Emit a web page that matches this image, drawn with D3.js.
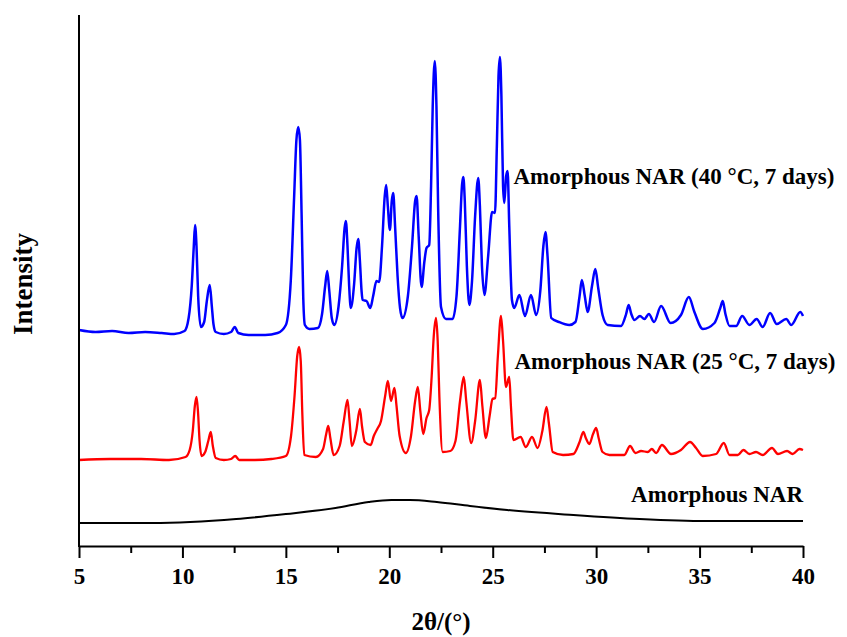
<!DOCTYPE html>
<html>
<head>
<meta charset="utf-8">
<script src="https://cdn.jsdelivr.net/npm/d3@7"></script>
<style>
  body { margin: 0; background: #fff; }
  svg text { font-family: "Liberation Serif", "Times New Roman", serif; font-weight: bold; }
</style>
</head>
<body>
<svg id="chart" width="847" height="637"></svg>
<script>
// 2θ (deg), intensity (a.u., traces already stacked)
const amorphous = [
  [5.0,23],[8.5,23],[12.6,27],[15.0,32],[17.4,38],[19.0,44],[20.1,46],[21.0,46],[22.3,44],
  [23.9,40],[25.7,36],[28.9,31],[32.1,27],[35.3,25],[40.0,25]
];

const nar25 = [
  [5.0,86],[6.5,87],[8.0,87],[9.35,86],[10.15,89],[10.35,96],[10.5,115],[10.6,140],[10.68,149],[10.75,135],[10.83,105],[10.92,90],
  [11.1,94],[11.25,105],[11.37,114],[11.47,100],[11.61,88],[12.0,86],[12.35,87],[12.55,90],[12.75,86],[13.5,86],[14.3,87],
  [15.0,90],[15.25,110],[15.42,150],[15.55,190],[15.64,199],[15.72,185],[15.8,130],[15.89,91],[16.45,89],
  [16.8,97],[16.95,112],[17.05,120],[17.15,108],[17.31,91],[17.6,100],[17.8,125],[17.98,146],[18.08,125],[18.19,100],
  [18.4,115],[18.58,137],[18.68,120],[18.82,104],[19.1,101],[19.25,110],[19.42,117],[19.6,125],[19.8,150],[19.93,165],
  [20.08,145],[20.25,158],[20.35,140],[20.5,110],[20.8,93],[21.05,110],[21.25,145],[21.38,159],[21.5,135],[21.64,112],
  [21.8,128],[21.93,136],[22.05,170],[22.15,210],[22.26,228],[22.34,205],[22.42,150],[22.58,94],[22.95,95],
  [23.2,105],[23.42,145],[23.6,169],[23.72,145],[23.96,103],[24.15,125],[24.38,166],[24.5,140],[24.67,108],
  [24.85,130],[24.99,147],[25.12,148],[25.25,190],[25.4,230],[25.5,205],[25.64,159],[25.8,169],[25.88,140],[26.0,106],
  [26.35,109],[26.6,99],[26.9,109],[27.17,98],[27.4,115],[27.6,139],[27.72,122],[27.9,94],[28.4,91],[28.9,92],
  [29.2,104],[29.38,114],[29.5,108],[29.67,102],[29.85,112],[30.0,118],[30.12,108],[30.31,94],[30.64,91],[31.36,91],
  [31.64,100],[31.9,93],[32.17,95],[32.5,94],[32.69,97],[32.9,93],[33.18,101],[33.62,92],[34.1,96],[34.54,104],
  [34.83,98],[35.15,90],[35.8,92],[36.17,103],[36.45,91],[36.85,91],[37.12,96],[37.41,92],[37.73,94],[38.05,91],
  [38.5,98],[38.79,92],[39.23,95],[39.5,92],[39.83,97],[40.0,96]
];

const nar40 = [
  [5.0,216],[5.8,214],[6.6,215],[7.4,213],[8.2,214],[9.0,213],[9.6,212],[10.1,215],[10.3,228],[10.45,260],[10.55,300],
  [10.61,321],[10.68,300],[10.76,250],[10.89,219],[11.05,224],[11.18,245],[11.32,261],[11.42,240],[11.5,222],[11.61,214],
  [12.0,212],[12.35,214],[12.53,219],[12.7,213],[13.2,211],[14.0,211],[14.6,213],[15.0,221],[15.24,266],[15.4,349],
  [15.51,406],[15.6,419],[15.68,406],[15.76,333],[15.84,249],[15.92,221],[16.14,217],[16.55,218],[16.75,232],[16.9,260],
  [17.0,275],[17.1,255],[17.22,228],[17.34,221],[17.55,240],[17.72,280],[17.84,318],[17.9,325],[17.98,300],[18.06,260],
  [18.14,238],[18.3,262],[18.42,298],[18.5,307],[18.58,285],[18.66,255],[18.71,246],[18.9,245],[19.08,238],[19.22,250],
  [19.38,265],[19.51,264],[19.65,300],[19.78,350],[19.85,361],[19.93,340],[20.03,316],[20.12,345],[20.19,353],[20.28,320],
  [20.4,270],[20.52,238],[20.64,228],[20.9,250],[21.1,300],[21.25,345],[21.32,350],[21.42,310],[21.56,259],[21.7,285],
  [21.8,298],[21.93,301],[22.02,360],[22.1,440],[22.2,485],[22.28,440],[22.36,340],[22.5,239],[22.74,227],[23.06,227],
  [23.25,250],[23.42,320],[23.52,362],[23.58,369],[23.65,345],[23.75,280],[23.87,241],[24.0,265],[24.15,330],[24.3,368],
  [24.38,340],[24.48,280],[24.6,251],[24.78,290],[24.97,334],[25.11,333],[25.2,400],[25.28,470],[25.35,489],[25.42,450],
  [25.5,360],[25.56,343],[25.65,370],[25.72,375],[25.8,320],[25.93,246],[26.04,238],[26.29,251],[26.56,230],[26.85,251],
  [27.1,231],[27.3,255],[27.45,300],[27.55,314],[27.65,290],[27.83,228],[28.2,224],[28.7,221],[29.0,224],[29.2,250],
  [29.31,266],[29.45,250],[29.59,234],[29.8,260],[29.96,277],[30.1,258],[30.31,231],[30.56,221],[31.2,220],[31.45,232],
  [31.57,241],[31.7,232],[31.85,226],[32.12,230],[32.33,227],[32.55,232],[32.8,224],[33.14,240],[33.6,223],[34.1,231],
  [34.48,249],[34.75,234],[35.16,217],[35.72,223],[36.0,238],[36.12,245],[36.25,232],[36.45,220],[36.77,220],[37.06,230],
  [37.41,221],[37.76,227],[38.05,219],[38.41,233],[38.73,222],[39.19,227],[39.43,221],[39.87,234],[40.0,230]
];

const majorTicks = [5, 10, 15, 20, 25, 30, 35, 40];
const minorTicks = [7.5, 12.5, 17.5, 22.5, 27.5, 32.5, 37.5];

// label: text, anchor 2θ, anchor intensity
const labels = [
  { text: "Amorphous NAR (40 \u00B0C, 7 days)", x: 26.0, y: 362, anchor: "start" },
  { text: "Amorphous NAR (25 \u00B0C, 7 days)", x: 26.05, y: 177, anchor: "start" },
  { text: "Amorphous NAR", x: 40.0, y: 44, anchor: "end" }
];

const svg = d3.select("#chart");
const margin = { top: 15, right: 44, bottom: 91, left: 79 };
const width = +svg.attr("width") - margin.left - margin.right;
const height = +svg.attr("height") - margin.top - margin.bottom;
const g = svg.append("g").attr("transform", `translate(${margin.left},${margin.top})`);

const x = d3.scaleLinear().domain([5, 40]).range([0, width]);
const y = d3.scaleLinear().domain([0, 531]).range([height, 0]);

const line = d3.line()
  .x(d => x(d[0]))
  .y(d => y(d[1]))
  .curve(d3.curveMonotoneX);

const series = [
  { data: amorphous, color: "#000000", w: 2 },
  { data: nar25, color: "#ff0000", w: 2.3 },
  { data: nar40, color: "#0000ff", w: 2.5 }
];

g.selectAll(".trace")
  .data(series)
  .enter().append("path")
  .attr("class", "trace")
  .attr("fill", "none")
  .attr("stroke", d => d.color)
  .attr("stroke-width", d => d.w)
  .attr("stroke-linejoin", "round")
  .attr("d", d => line(d.data));

// minor ticks
g.append("g")
  .attr("transform", `translate(0,${height})`)
  .call(d3.axisBottom(x).tickValues(minorTicks).tickSize(7).tickFormat(""))
  .call(a => a.select(".domain").remove())
  .call(a => a.selectAll("line").attr("stroke-width", 2));

// major ticks + labels
const xAxis = g.append("g")
  .attr("transform", `translate(0,${height})`)
  .call(d3.axisBottom(x).tickValues(majorTicks).tickSize(12).tickSizeOuter(0).tickPadding(10).tickFormat(d3.format("d")));
xAxis.select(".domain").attr("stroke-width", 2);
xAxis.selectAll("line").attr("stroke-width", 2);
xAxis.selectAll("text")
  .attr("font-size", 23)
  .attr("fill", "#000")
  .style("font-family", '"Liberation Serif", "Times New Roman", serif')
  .style("font-weight", "bold");

// y axis: bare line
g.append("line")
  .attr("x1", 0).attr("x2", 0)
  .attr("y1", 0).attr("y2", height + 1)
  .attr("stroke", "#000")
  .attr("stroke-width", 2);

g.selectAll(".lbl")
  .data(labels)
  .enter().append("text")
  .attr("class", "lbl")
  .attr("x", d => x(d.x))
  .attr("y", d => y(d.y))
  .attr("text-anchor", d => d.anchor)
  .attr("font-size", 23)
  .text(d => d.text);

svg.append("text")
  .attr("x", 441)
  .attr("y", 630)
  .attr("text-anchor", "middle")
  .attr("font-size", 25)
  .text("2\u03B8/(\u00B0)");

svg.append("text")
  .attr("transform", "translate(32,284) rotate(-90)")
  .attr("text-anchor", "middle")
  .attr("font-size", 27)
  .text("Intensity");
</script>
</body>
</html>
